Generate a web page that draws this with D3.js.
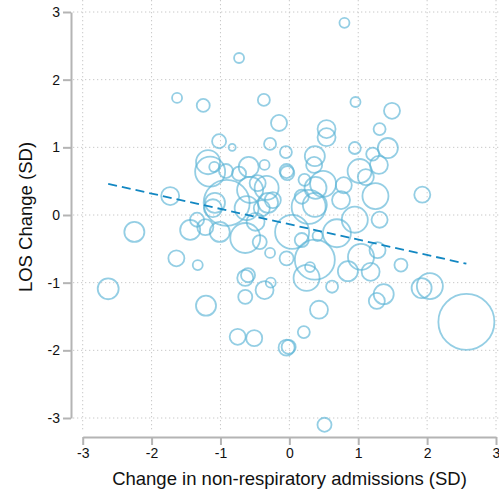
<!DOCTYPE html>
<html>
<head>
<meta charset="utf-8">
<script src="https://cdn.jsdelivr.net/npm/d3@7"></script>
<style>
  html, body { margin: 0; padding: 0; background: #fff; }
  svg { display: block; font-family: "Liberation Sans", Arial, Helvetica, sans-serif; }
  .axis text { font-size: 14px; font-family: "Liberation Sans", Arial, Helvetica, sans-serif; fill: #111; }
</style>
</head>
<body>
<svg id="chart" width="499" height="495"></svg>
<script>
// Hospital-level changes: admissions (x), length of stay (y), bubble weight
const xChange = [0.80,-0.73,-1.63,-1.25,-0.37,0.96,1.49,-0.15,0.54,0.54,1.31,-1.02,-0.83,-0.28,-0.05,0.95,1.43,1.21,1.30,-0.36,-0.04,-0.03,0.37,0.36,1.02,1.11,0.22,0.49,0.38,0.79,0.75,1.25,1.93,0.28,0.37,0.95,1.31,0.04,0.69,0.41,0.18,-0.43,-0.28,-0.04,0.37,0.30,0.85,-0.27,-0.36,0.25,1.04,1.18,1.62,1.28,0.62,0.43,0.21,1.27,1.37,1.92,2.04,2.57,0.51,-0.04,-0.01,-0.51,-0.75,-0.64,-1.21,-2.63,-2.25,-1.64,-1.33,-1.73,-1.44,-1.22,-1.01,-0.64,-0.60,-0.64,-0.62,-0.91,-1.08,-1.11,-1.34,-1.18,-1.15,-1.09,-0.92,-0.73,-0.59,-0.33,-0.46,-0.31,-0.40,-0.24,-0.57,-0.49,0.18];
const yChange = [2.84,2.32,1.73,1.62,1.70,1.67,1.54,1.36,1.27,1.15,1.27,1.09,1.00,1.05,0.93,0.99,0.99,0.90,0.74,0.74,0.65,0.62,0.87,0.74,0.65,0.56,0.52,0.46,0.40,0.44,0.22,0.28,0.30,0.12,0.15,-0.07,-0.07,-0.25,-0.27,-0.31,-0.37,-0.40,-0.56,-0.64,-0.66,-0.77,-0.83,-1.00,-1.11,-0.93,-0.62,-0.84,-0.74,-0.52,-1.06,-1.40,-1.73,-1.27,-1.17,-1.08,-1.05,-1.58,-3.10,-1.96,-1.95,-1.82,-1.80,-1.21,-1.34,-1.09,-0.25,-0.64,-0.74,0.28,-0.22,-0.18,-0.25,-0.34,-0.89,-0.93,0.10,0.18,0.18,0.10,-0.07,0.78,0.64,0.71,0.65,0.61,0.71,0.40,0.47,0.18,0.10,0.22,0.37,-0.10,0.27];
const weight = [3.2,3.2,3.2,5.4,4.6,3.2,8.2,8.2,10.3,10.3,4.6,6.3,1.6,4.6,4.6,4.6,12.8,5.4,10.3,3.2,6.3,6.3,12.8,8.2,18.4,8.2,4.6,21.6,15.4,8.2,10.3,21.6,8.2,36.9,18.4,21.6,8.2,36.9,25,3.2,6.3,6.3,3.2,6.3,51,3.2,12.8,3.2,10.3,21.6,21.6,10.3,5.4,8.2,4.6,10.3,4.6,8.2,12.8,12.8,21.6,100,6.3,8.2,6.3,8.2,8.2,6.3,12.8,14,12.8,8.2,3.2,10.3,12.8,8.2,12.8,28.7,6.3,8.2,18.4,67.5,12.8,10.3,6.3,18.4,28.7,3.2,6.3,6.3,12.8,18.4,8.2,12.8,8.2,8.2,21.6,10.3,6.3];

// Weighted linear fit
const fitIntercept = -0.137;
const fitSlope = -0.227;

const xTicks = [-3, -2, -1, 0, 1, 2, 3];
const yTicks = [-3, -2, -1, 0, 1, 2, 3];
const xTitle = "Change in non-respiratory admissions (SD)";
const yTitle = "LOS Change (SD)";

const points = xChange.map((d, i) => ({ x: d, y: yChange[i], w: weight[i] }));

const svg = d3.select("#chart");
const x = d3.scaleLinear().domain([-3, 3]).range([82.7, 496]);
const y = d3.scaleLinear().domain([-3, 3]).range([418, 12]);
const r = d3.scaleSqrt().domain([0, 100]).range([0, 28]);

const axisColor = "#b4b4b4";
const gridColor = "#c8c8c8";

// dotted grid
const grid = svg.append("g");
grid.selectAll("line.gx").data(xTicks).join("line")
  .attr("x1", d => x(d)).attr("x2", d => x(d))
  .attr("y1", 0).attr("y2", 431)
  .attr("stroke", gridColor).attr("stroke-width", 1)
  .attr("stroke-dasharray", "1.3,2.7");
grid.selectAll("line.gy").data(yTicks).join("line")
  .attr("x1", 73).attr("x2", 499)
  .attr("y1", d => y(d)).attr("y2", d => y(d))
  .attr("stroke", gridColor).attr("stroke-width", 1)
  .attr("stroke-dasharray", "1.3,2.7");

// axes
const fmt = d => d < 0 ? "-" + Math.abs(d) : String(d);
const yAxis = svg.append("g").attr("class", "axis").attr("transform", "translate(71,0)")
  .call(d3.axisLeft(y).tickValues(yTicks).tickSizeInner(8).tickSizeOuter(0).tickPadding(3).tickFormat(fmt));
const xAxis = svg.append("g").attr("class", "axis").attr("transform", "translate(0,437)")
  .call(d3.axisBottom(x).tickValues(xTicks).tickSizeInner(8).tickSizeOuter(0).tickPadding(3).tickFormat(fmt));
[xAxis, yAxis].forEach(g => {
  g.attr("font-size", 14).attr("font-family", "Liberation Sans, Arial, sans-serif");
  g.select(".domain").attr("stroke", axisColor).attr("stroke-width", 2);
  g.selectAll(".tick line").attr("stroke", axisColor).attr("stroke-width", 2);
});

// bubbles
svg.append("g").selectAll("circle").data(points).join("circle")
  .attr("cx", d => x(d.x)).attr("cy", d => y(d.y)).attr("r", d => r(d.w))
  .attr("fill", "none")
  .attr("stroke", "#5ab4d6").attr("stroke-opacity", 0.65).attr("stroke-width", 1.8);

// fitted line over the observed x range
const [xMin, xMax] = d3.extent(xChange);
svg.append("line")
  .attr("x1", x(xMin)).attr("y1", y(fitIntercept + fitSlope * xMin))
  .attr("x2", x(xMax)).attr("y2", y(fitIntercept + fitSlope * xMax))
  .attr("stroke", "#1287c2").attr("stroke-width", 1.8)
  .attr("stroke-dasharray", "9,5");

// titles
svg.append("text").attr("x", 289.5).attr("y", 485).attr("text-anchor", "middle")
  .style("font-size", "18.5px").attr("fill", "#111").text(xTitle);
svg.append("text").attr("transform", "translate(32,217) rotate(-90)").attr("text-anchor", "middle")
  .style("font-size", "18.5px").attr("fill", "#111").text(yTitle);
</script>
</body>
</html>
